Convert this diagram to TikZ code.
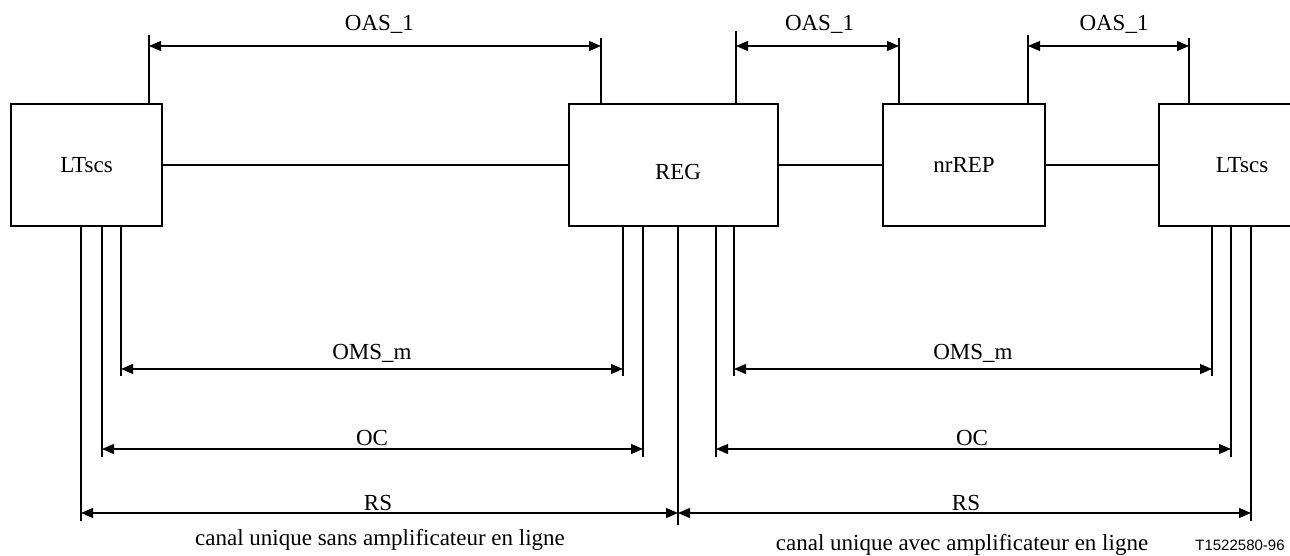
\documentclass[tikz,border=0pt]{standalone}
\usepackage{fontspec}
\setmainfont{Liberation Serif}
\newfontfamily\arialfont{Liberation Sans}
\usetikzlibrary{arrows.meta}
\begin{document}
\begin{tikzpicture}[x=1pt,y=-1pt,line width=1.1pt,
  box/.style={draw, rectangle, minimum height=122pt, inner sep=0pt, font=\fontsize{23}{27}\selectfont},
  lbl/.style={font=\fontsize{23}{27}\selectfont, inner sep=0pt, anchor=base},
  dim/.style={{Triangle[length=12pt,width=10pt]}-{Triangle[length=12pt,width=10pt]}},
  tick/.style={line width=1.1pt}]
\useasboundingbox (0,0) rectangle (1290,556);
\clip (0,0) rectangle (1290,556);
% boxes
\node[box, minimum width=151pt] (lt1) at (86.5,165) {LTscs};
\node[box, minimum width=209pt] (reg) at (673.5,165) {};
\node[lbl] (regt) at (678,180) {REG};
\node[box, minimum width=162pt] (nr) at (964,165) {nrREP};
\node[box, minimum width=166pt] (lt2) at (1242,165) {LTscs};
% links
\draw (lt1) -- (reg);
\draw (reg) -- (nr);
\draw (nr) -- (lt2);
% top ticks
\coordinate (u1) at (149,35);
\coordinate (u2) at (601,38);
\coordinate (u3) at (736,31);
\coordinate (u4) at (899,38);
\coordinate (u5) at (1028,35);
\coordinate (u6) at (1189,38);
\draw[tick] (u1) -- (u1 |- lt1.north);
\draw[tick] (u2) -- (u2 |- reg.north);
\draw[tick] (u3) -- (u3 |- reg.north);
\draw[tick] (u4) -- (u4 |- nr.north);
\draw[tick] (u5) -- (u5 |- nr.north);
\draw[tick] (u6) -- (u6 |- lt2.north);
\coordinate (ua1) at (149,46);  \coordinate (ua2) at (601,46);
\coordinate (ua3) at (736,46);  \coordinate (ua4) at (899,46);
\coordinate (ua5) at (1028,46); \coordinate (ua6) at (1189,46);
\draw[dim] (ua1) -- (ua2);
\draw[dim] (ua3) -- (ua4);
\draw[dim] (ua5) -- (ua6);
\node[lbl] (oas1) at (379.5,31) {OAS\_1};
\node[lbl] (oas2) at (819.5,31) {OAS\_1};
\node[lbl] (oas3) at (1114,31) {OAS\_1};
% bottom ticks
\coordinate (b1) at (81,521);
\coordinate (b2) at (102,457);
\coordinate (b3) at (121,376);
\coordinate (b4) at (623,376);
\coordinate (b5) at (643,457);
\coordinate (b6) at (678,525);
\coordinate (b7) at (716,457);
\coordinate (b8) at (734,376);
\coordinate (b9) at (1212,376);
\coordinate (b10) at (1231,457);
\coordinate (b11) at (1251,521);
\foreach \c in {b1,b2,b3} \draw[tick] (\c) -- (\c |- lt1.south);
\foreach \c in {b4,b5,b6,b7,b8} \draw[tick] (\c) -- (\c |- reg.south);
\foreach \c in {b9,b10,b11} \draw[tick] (\c) -- (\c |- lt2.south);
% dimension arrows
\coordinate (m1) at (121,369); \coordinate (m2) at (623,369);
\coordinate (m3) at (734,369); \coordinate (m4) at (1212,369);
\coordinate (c1) at (102,449); \coordinate (c2) at (643,449);
\coordinate (c3) at (716,449); \coordinate (c4) at (1231,449);
\coordinate (r1) at (81,513);  \coordinate (r2) at (678,513);
\coordinate (r3) at (1251,513);
\draw[dim] (m1) -- (m2);
\draw[dim] (m3) -- (m4);
\draw[dim] (c1) -- (c2);
\draw[dim] (c3) -- (c4);
\draw[dim] (r1) -- (r2);
\draw[dim] (r2) -- (r3);
\node[lbl] (oms1) at (372,359) {OMS\_m};
\node[lbl] (oms2) at (973,359) {OMS\_m};
\node[lbl] (oc1) at (372,445) {OC};
\node[lbl] (oc2) at (972,445) {OC};
\node[lbl] (rs1) at (378,510) {RS};
\node[lbl] (rs2) at (966,510) {RS};
\node[lbl] (cap1) at (380,545) {canal unique sans amplificateur en ligne};
\node[lbl] (cap2) at (962,550) {canal unique avec amplificateur en ligne};
\node[anchor=base, inner sep=0pt, font=\arialfont\fontsize{15}{18}\selectfont] (ref) at (1240,550) {T1522580-96};
\end{tikzpicture}
\end{document}
